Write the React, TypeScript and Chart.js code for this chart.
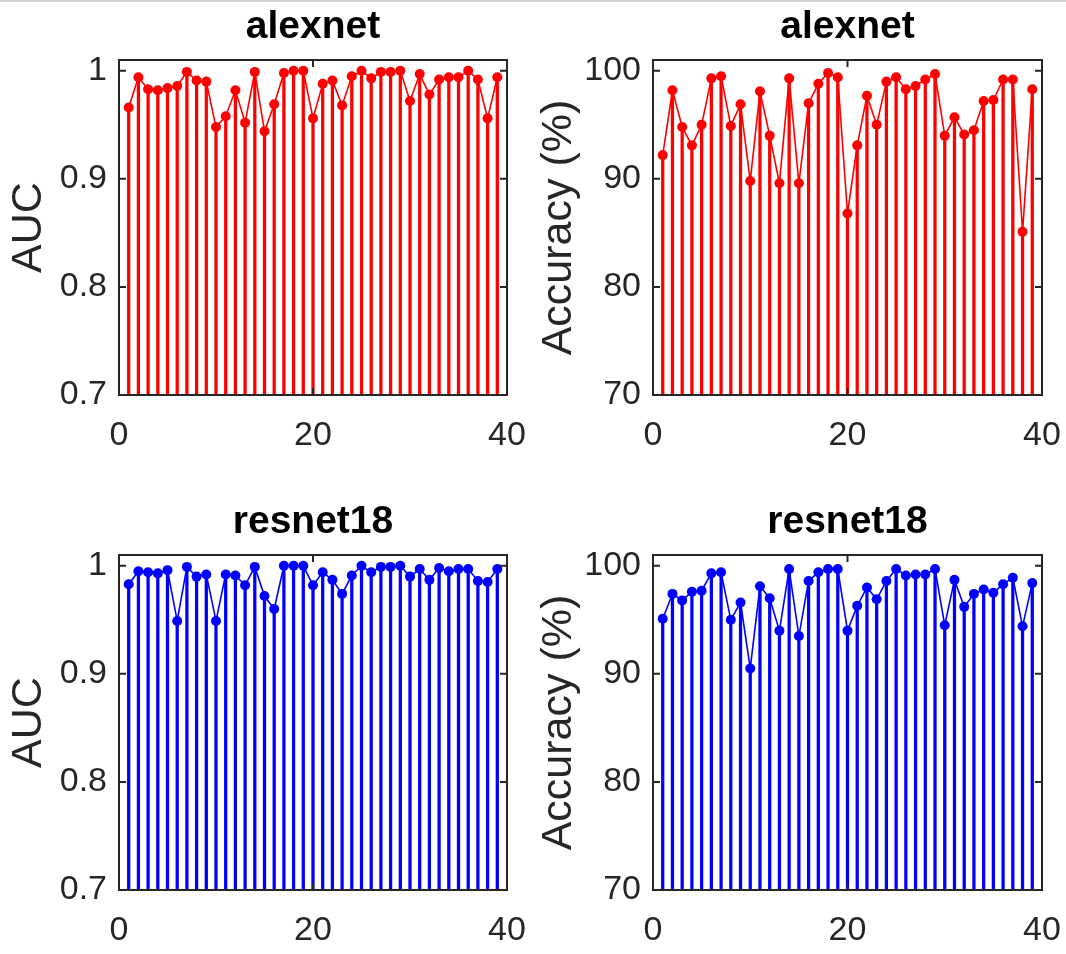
import React, { useEffect, useRef } from "react";
import { Chart, registerables } from "chart.js";

Chart.register(...registerables);

// ---------- data ----------
const runs = [1, 2, 3, 4, 5, 6, 7, 8, 9, 10, 11, 12, 13, 14, 15, 16, 17, 18, 19, 20, 21, 22, 23, 24, 25, 26, 27, 28, 29, 30, 31, 32, 33, 34, 35, 36, 37, 38, 39];

const alexnetAUC = [0.966, 0.994, 0.983, 0.982, 0.984, 0.986, 0.999, 0.991, 0.990, 0.948, 0.958, 0.982, 0.952, 0.999, 0.944, 0.969, 0.998, 1.000, 1.000, 0.956, 0.988, 0.991, 0.968, 0.995, 1.000, 0.993, 0.999, 0.999, 1.000, 0.972, 0.997, 0.978, 0.992, 0.994, 0.994, 1.000, 0.992, 0.956, 0.994];
const alexnetAcc = [92.2, 98.2, 94.8, 93.1, 95.0, 99.3, 99.5, 94.9, 96.9, 89.8, 98.1, 94.0, 89.6, 99.3, 89.6, 97.0, 98.8, 99.8, 99.4, 86.8, 93.1, 97.7, 95.0, 99.0, 99.4, 98.3, 98.6, 99.2, 99.7, 94.0, 95.7, 94.1, 94.5, 97.2, 97.3, 99.2, 99.2, 85.1, 98.3];
const resnetAUC = [0.983, 0.995, 0.994, 0.993, 0.996, 0.949, 0.999, 0.990, 0.992, 0.949, 0.992, 0.991, 0.982, 0.999, 0.972, 0.960, 1.000, 1.000, 1.000, 0.982, 0.994, 0.987, 0.974, 0.991, 1.000, 0.994, 0.999, 0.999, 1.000, 0.990, 0.997, 0.987, 0.998, 0.995, 0.997, 0.997, 0.986, 0.985, 0.997];
const resnetAcc = [95.1, 97.4, 96.8, 97.6, 97.7, 99.3, 99.4, 95.0, 96.6, 90.5, 98.1, 97.0, 94.0, 99.7, 93.5, 98.6, 99.4, 99.7, 99.7, 94.0, 96.3, 98.0, 96.9, 98.6, 99.7, 99.1, 99.2, 99.2, 99.7, 94.5, 98.7, 96.2, 97.4, 97.8, 97.5, 98.3, 98.9, 94.4, 98.4];

const xTicks = [0, 20, 40];
const aucTicks = [0.7, 0.8, 0.9, 1];
const accTicks = [70, 80, 90, 100];

const FONT = "'Liberation Sans', Arial, Helvetica, sans-serif";
const AXIS_COLOR = "#262626";

type PanelProps = {
  title: string;
  yLabel: string;
  values: number[];
  color: string;
  yMin: number;
  yMax: number;
  yTicks: number[];
  left: number;
  top: number;
  width: number;
  height: number;
  yAxisWidth: number;
  padRight: number;
  xAxisHeight: number;
  yTitlePad: number;
};

function Panel(p: PanelProps) {
  const ref = useRef<HTMLCanvasElement>(null);
  useEffect(() => {
    if (!ref.current) return;
    const boxPlugin = {
      id: "matlabBox",
      afterDatasetsDraw(chart: any) {
        const { ctx, chartArea: a, scales } = chart;
        const tl = 7;
        ctx.save();
        ctx.strokeStyle = AXIS_COLOR;
        ctx.lineWidth = 2;
        ctx.beginPath();
        for (const v of p.yTicks) {
          const py = scales.y.getPixelForValue(v);
          ctx.moveTo(a.left, py);
          ctx.lineTo(a.left + tl, py);
          ctx.moveTo(a.right, py);
          ctx.lineTo(a.right - tl, py);
        }
        for (const v of xTicks) {
          const px = scales.x.getPixelForValue(v);
          ctx.moveTo(px, a.bottom);
          ctx.lineTo(px, a.bottom - tl);
          ctx.moveTo(px, a.top);
          ctx.lineTo(px, a.top + tl);
        }
        ctx.stroke();
        ctx.strokeRect(a.left, a.top, a.right - a.left, a.bottom - a.top);
        ctx.restore();
      },
    };
    const points = runs.map((x, i) => ({ x, y: p.values[i] }));
    const chart = new Chart(ref.current, {
      type: "bar",
      data: {
        datasets: [
          {
            type: "line",
            data: points,
            borderColor: p.color,
            backgroundColor: p.color,
            borderWidth: 1.6,
            pointRadius: 5,
            pointBackgroundColor: p.color,
            pointBorderColor: p.color,
            pointBorderWidth: 0,
            tension: 0,
            clip: 10,
          } as any,
          {
            type: "bar",
            data: points,
            backgroundColor: p.color,
            borderWidth: 0,
            barThickness: 2.6,
            base: p.yMin,
            clip: 0,
          } as any,
        ],
      },
      options: {
        animation: false,
        responsive: false,
        events: [],
        layout: { padding: { left: 0, top: 0, right: p.padRight, bottom: 0 } },
        plugins: {
          legend: { display: false },
          tooltip: { enabled: false },
          title: {
            display: true,
            text: p.title,
            color: "#000000",
            fullSize: false,
            font: { family: FONT, size: 39, weight: "bold", lineHeight: 1 },
            padding: { top: 8, bottom: 13 },
          },
        },
        scales: {
          x: {
            type: "linear",
            min: 0,
            max: 40,
            offset: false,
            grid: { display: false, drawTicks: false },
            border: { display: false },
            ticks: {
              color: AXIS_COLOR,
              font: { family: FONT, size: 34, lineHeight: 2.2 },
              padding: 3,
              maxRotation: 0,
              autoSkip: false,
              callback: (v: any) => String(v),
            },
            afterBuildTicks: (s: any) => {
              s.ticks = xTicks.map((v) => ({ value: v }));
            },
            afterFit: (s: any) => {
              s.height = p.xAxisHeight;
            },
          },
          y: {
            type: "linear",
            min: p.yMin,
            max: p.yMax,
            grid: { display: false, drawTicks: false },
            border: { display: false },
            ticks: {
              color: AXIS_COLOR,
              font: { family: FONT, size: 34 },
              padding: 12,
              autoSkip: false,
              callback: (v: any) => String(v),
            },
            afterBuildTicks: (s: any) => {
              s.ticks = p.yTicks.map((v) => ({ value: v }));
            },
            afterFit: (s: any) => {
              s.width = p.yAxisWidth;
            },
            title: {
              display: true,
              text: p.yLabel,
              color: AXIS_COLOR,
              font: { family: FONT, size: 43, lineHeight: 1.2 },
              padding: { top: p.yTitlePad, bottom: 0 },
            },
          },
        },
      } as any,
      plugins: [boxPlugin],
    });
    return () => chart.destroy();
  }, []);
  return (
    <canvas
      ref={ref}
      width={p.width}
      height={p.height}
      style={{ position: "absolute", left: p.left, top: p.top, width: p.width, height: p.height, display: "block" }}
    />
  );
}

export default function App() {
  return (
    <div style={{ position: "absolute", left: 0, top: 0, width: 1066, height: 954, background: "#ffffff", overflow: "hidden" }}>
      <div style={{ position: "absolute", left: 0, top: 0, width: 1066, height: 2, background: "#d4d4d4" }} />
      <Panel title="alexnet" yLabel="AUC" values={alexnetAUC} color="#ff0000" yMin={0.7} yMax={1.01} yTicks={aucTicks}
        left={0} top={0} width={533} height={495} yAxisWidth={119} padRight={26} xAxisHeight={100} yTitlePad={3} />
      <Panel title="alexnet" yLabel="Accuracy (%)" values={alexnetAcc} color="#ff0000" yMin={70} yMax={101} yTicks={accTicks}
        left={533} top={0} width={533} height={495} yAxisWidth={120} padRight={24} xAxisHeight={100} yTitlePad={0} />
      <Panel title="resnet18" yLabel="AUC" values={resnetAUC} color="#0000ff" yMin={0.7} yMax={1.01} yTicks={aucTicks}
        left={0} top={495} width={533} height={459} yAxisWidth={119} padRight={26} xAxisHeight={64} yTitlePad={3} />
      <Panel title="resnet18" yLabel="Accuracy (%)" values={resnetAcc} color="#0000ff" yMin={70} yMax={101} yTicks={accTicks}
        left={533} top={495} width={533} height={459} yAxisWidth={120} padRight={24} xAxisHeight={64} yTitlePad={0} />
    </div>
  );
}
